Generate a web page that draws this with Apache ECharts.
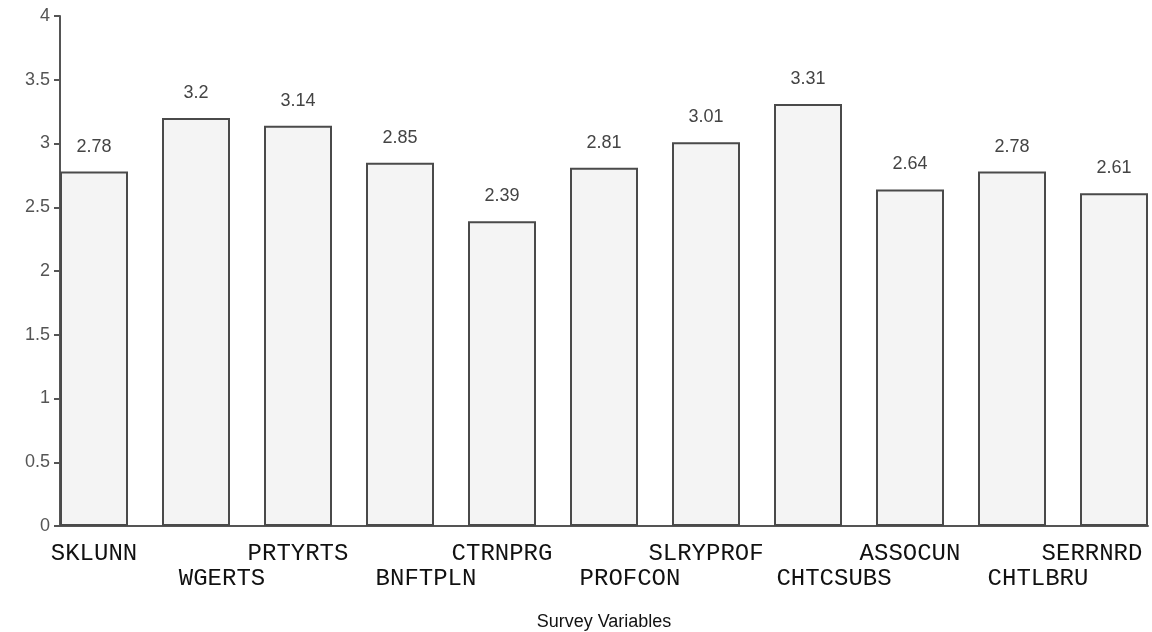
<!DOCTYPE html>
<html>
<head>
<meta charset="utf-8">
<script src="https://cdn.jsdelivr.net/npm/echarts@6/dist/echarts.min.js"></script>
<style>
  html, body { margin: 0; padding: 0; background: #fff; }
  #chart { width: 1152px; height: 632px; }
</style>
</head>
<body>
<div id="chart"></div>
<script>
// survey variables (x categories)
const categories = ['SKLUNN', 'WGERTS', 'PRTYRTS', 'BNFTPLN', 'CTRNPRG', 'PROFCON',
  'SLRYPROF', 'CHTCSUBS', 'ASSOCUN', 'CHTLBRU', 'SERRNRD']
// mean scores
const scores = [2.78, 3.2, 3.14, 2.85, 2.39, 2.81, 3.01, 3.31, 2.64, 2.78, 2.61]
const yTicks = [0, 0.5, 1, 1.5, 2, 2.5, 3, 3.5, 4]

const axisColor = '#555'
const mono = '"Courier New", "Liberation Mono", monospace'
const sans = 'Arial, "Liberation Sans", sans-serif'

const chart = echarts.init(document.getElementById('chart'))

const option = {
  backgroundColor: '#fff',
  animation: false,
  grid: [
    // bars are centred on the category points (first at 94, last at 1114)
    { left: 94, top: 16, width: 1020, height: 510, outerBoundsMode: 'none', containLabel: false },
    // only used to draw the x axis line from 60 to 1148
    { left: 60, top: 16, width: 1088, height: 510, outerBoundsMode: 'none', containLabel: false }
  ],
  xAxis: [
    {
      type: 'category',
      gridIndex: 0,
      data: categories,
      boundaryGap: false,
      name: 'Survey Variables',
      nameLocation: 'middle',
      nameGap: 87,
      nameTextStyle: { fontFamily: sans, fontSize: 18, color: '#111' },
      axisLine: { show: false },
      axisTick: { show: false },
      axisLabel: {
        interval: 0,
        margin: 16,
        color: '#111',
        fontFamily: mono,
        fontSize: 24,
        formatter: function (val, i) {
          if (i === categories.length - 1) return '{c|' + val + '}'
          return i % 2 === 0 ? '{a|' + val + '}' : '{b|' + val + '}'
        },
        rich: {
          a: { fontFamily: mono, fontSize: 24, color: '#111' },
          b: { fontFamily: mono, fontSize: 24, color: '#111', padding: [25, 0, 0, 52] },
          c: { fontFamily: mono, fontSize: 24, color: '#111', padding: [0, 44, 0, 0] }
        }
      }
    },
    {
      type: 'value',
      gridIndex: 1,
      min: 0,
      max: 1,
      axisLine: { show: true, lineStyle: { color: axisColor, width: 2 } },
      axisTick: { show: false },
      axisLabel: { show: false },
      splitLine: { show: false }
    }
  ],
  yAxis: [
    {
      type: 'value',
      gridIndex: 0,
      min: yTicks[0],
      max: yTicks[yTicks.length - 1],
      interval: 0.5,
      offset: 34,
      axisLine: { show: true, lineStyle: { color: axisColor, width: 2 } },
      axisTick: { show: true, length: 6, lineStyle: { color: axisColor, width: 2 } },
      axisLabel: {
        color: '#555',
        fontFamily: sans,
        fontSize: 18,
        margin: 10
      },
      splitLine: { show: false }
    },
    {
      type: 'value',
      gridIndex: 1,
      show: false
    }
  ],
  series: [
    {
      type: 'bar',
      xAxisIndex: 0,
      yAxisIndex: 0,
      data: scores,
      barWidth: 68,
      itemStyle: {
        color: '#f4f4f4',
        borderColor: '#4a4a4a',
        borderWidth: 2
      },
      label: {
        show: true,
        position: 'top',
        distance: 16,
        color: '#444',
        fontFamily: sans,
        fontSize: 18,
        formatter: function (p) { return String(p.value) }
      }
    }
  ]
}

chart.setOption(option)
</script>
</body>
</html>
